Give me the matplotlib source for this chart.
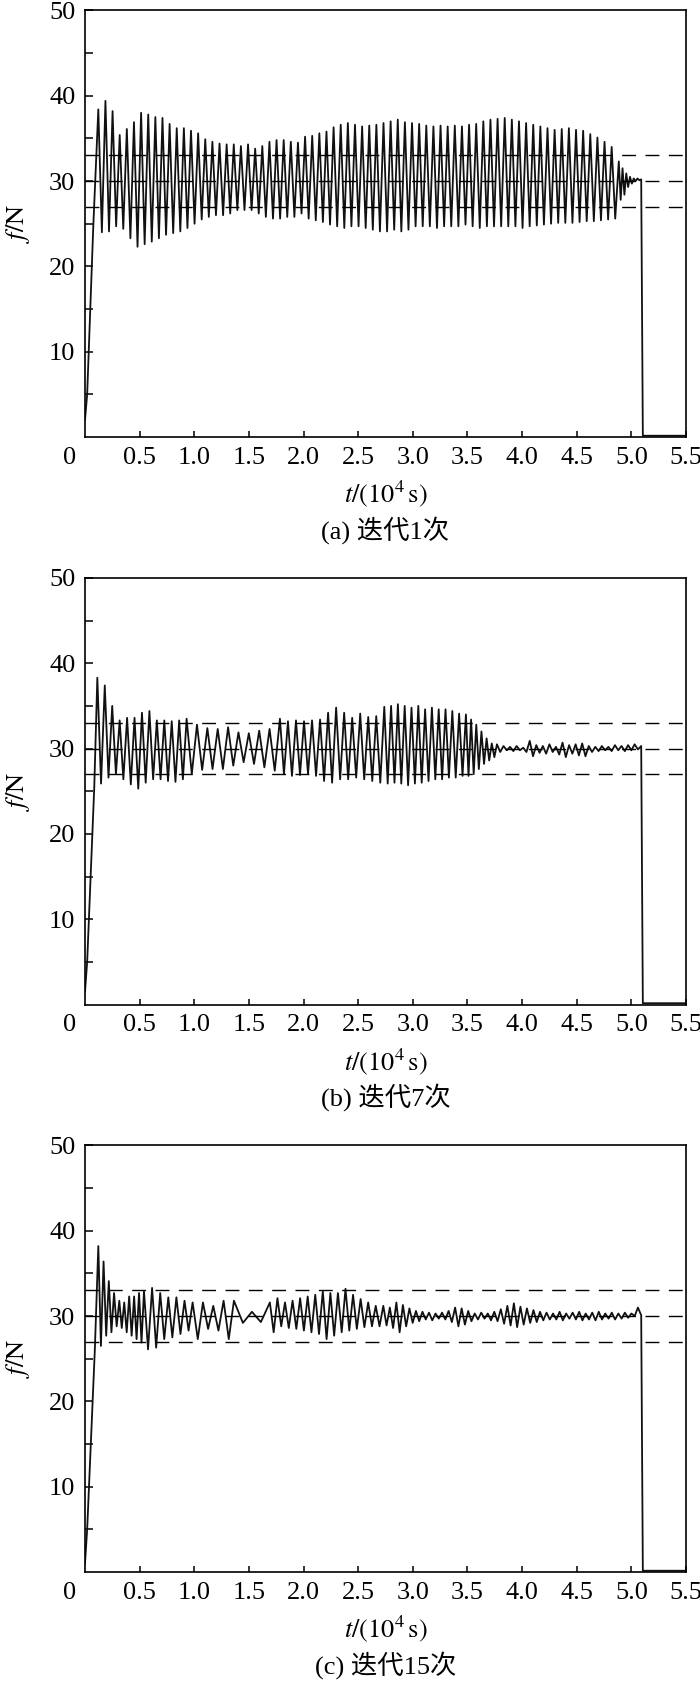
import numpy as np
import matplotlib
matplotlib.use("Agg")
import matplotlib.pyplot as plt

plt.rcParams['font.family'] = ['Liberation Serif', 'Noto Sans CJK SC', 'DejaVu Sans']
plt.rcParams['mathtext.fontset'] = 'stix'

# reference band (N)
ref_lines = [27, 30, 33]

# panel (a): 迭代1次
a_rise_t = [0.0, 0.02, 0.076]
a_rise_f = [2.0, 5.0, 24.7]
a_starts = [0.122, 4.885]
a_counts = [73]
a_hi = [38.4, 39.4, 38.2, 35.4, 36.1, 36.9, 38.0, 37.8, 37.5, 37.4,
        36.7, 36.2, 36.2, 35.9, 35.6, 34.9, 34.6, 34.4, 34.3, 34.3,
        34.1, 34.3, 33.8, 34.1, 34.6, 34.8, 34.8, 34.6, 34.5, 35.2,
        35.3, 35.6, 35.8, 36.3, 36.6, 36.8, 36.6, 36.4, 36.5, 36.6,
        36.8, 37.0, 37.2, 36.9, 36.8, 36.7, 36.5, 36.4, 36.5, 36.4,
        36.5, 36.4, 36.6, 36.7, 37.0, 37.2, 37.3, 37.4, 37.2, 37.0,
        36.8, 36.6, 36.4, 36.2, 36.0, 36.1, 36.2, 36.0, 35.9, 35.5,
        35.1, 34.6, 34.0]
a_lo = [24.0, 24.1, 24.7, 24.4, 23.3, 22.3, 22.6, 22.9, 23.3, 23.7,
        23.9, 24.1, 24.5, 25.0, 25.5, 25.8, 26.0, 26.0, 26.2, 26.6,
        26.6, 26.6, 26.2, 25.8, 25.6, 25.6, 25.8, 25.8, 26.2, 25.6,
        25.4, 25.2, 24.9, 24.7, 24.5, 24.7, 24.7, 24.5, 24.3, 24.1,
        24.1, 24.3, 24.1, 24.3, 24.7, 24.7, 24.7, 24.5, 24.7, 24.7,
        24.7, 24.9, 24.7, 24.5, 24.7, 24.7, 24.7, 24.7, 24.7, 24.5,
        24.7, 24.8, 24.9, 25.0, 25.1, 25.1, 25.1, 25.2, 25.3, 25.3,
        25.4, 25.5, 25.6]
a_tail = [32.3, 27.8, 31.5, 28.4, 30.9, 29.3, 30.5, 29.7, 30.3, 30.0,
          30.3, 30.1, 30.2]

# panel (b): 迭代7次
b_rise_t = [0.0, 0.02, 0.085]
b_rise_f = [1.5, 5.0, 25.5]
b_starts = [0.113, 0.93, 1.784, 2.739, 3.486, 3.77]
b_counts = [12, 9, 13, 12, 6]
b_hi = [38.3, 37.4, 35.0, 33.3, 33.6, 33.6, 34.2, 34.4, 33.3, 33.3, 33.2, 33.3,
        33.5, 32.8, 32.4, 32.3, 32.5, 31.9, 31.8, 32.1, 32.3,
        33.5, 33.2, 33.3, 33.2, 33.3, 33.4, 34.2, 34.8, 34.2, 33.6, 34.1, 33.7, 33.8,
        34.9, 35.0, 35.2, 35.0, 34.8, 35.0, 34.6, 34.8, 34.6, 34.6, 34.4, 34.1,
        34.0, 33.4, 32.8, 32.0, 31.2, 30.6]
b_lo = [25.9, 26.6, 27.0, 26.4, 25.8, 25.3, 26.0, 26.4, 26.4, 26.2, 26.1, 26.4,
        27.0, 27.5, 27.6, 27.6, 28.0, 28.4, 28.2, 27.8, 27.4,
        27.0, 26.8, 26.9, 27.0, 26.8, 26.2, 26.0, 26.4, 26.4, 26.6, 26.4, 26.2, 26.0,
        25.9, 26.0, 25.9, 25.7, 25.9, 26.0, 26.2, 26.4, 26.4, 26.6, 26.6, 26.8,
        26.8, 27.0, 27.6, 28.2, 28.6, 29.0]
b_tail = [30.5, 29.6, 30.3, 29.8, 30.2, 29.7, 30.3, 29.8, 30.1, 29.6,
          30.9, 29.1, 30.4, 29.5, 30.3, 29.4, 30.5, 29.6, 30.2, 29.3,
          30.7, 29.0, 30.4, 29.4, 30.5, 29.2, 30.6, 29.1, 30.3, 29.6,
          30.2, 29.7, 30.3, 29.8, 30.2, 29.7, 30.4, 29.8, 30.3, 29.7,
          30.4, 29.8, 30.5, 29.9, 30.3]

# panel (c): 迭代15次
c_rise_t = [0.0, 0.02, 0.09]
c_rise_f = [1.0, 5.0, 26.0]
c_starts = [0.122, 0.314, 0.54, 0.985, 1.363, 1.692, 2.73]
c_counts = [4, 5, 6, 4, 2, 15]
c_hi = [38.2, 36.4, 34.1, 32.7,
        31.8, 31.6, 32.3, 32.3, 32.7,
        32.9, 33.3, 32.7, 32.2, 32.2, 31.8,
        31.6, 31.6, 31.2, 31.8,
        31.8, 30.5,
        31.6, 32.1, 31.6, 31.8, 32.1, 32.3, 32.5, 32.9, 32.7, 32.7, 33.2, 32.5, 32.0, 31.6, 31.2]
c_lo = [26.5, 27.7, 28.1, 28.8,
        28.6, 28.1, 27.7, 27.3, 26.9,
        26.1, 26.3, 27.3, 27.5, 27.9, 28.3,
        27.3, 28.5, 28.3, 27.3,
        29.2, 29.3,
        28.1, 28.8, 28.6, 28.5, 28.3, 28.1, 27.9, 27.3, 27.7, 28.1, 28.3, 28.5, 28.7, 28.8, 28.8]
c_tail = [31.2, 28.9, 31.0, 28.6, 31.6, 28.1, 31.3, 28.8, 30.9, 29.2,
          30.6, 29.4, 30.5, 29.6, 30.4, 29.5, 30.3, 29.7, 30.4, 29.6,
          30.6, 29.3, 31.0, 28.8, 30.9, 29.0, 30.6, 29.4, 30.3, 29.6,
          30.4, 29.7, 30.3, 29.5, 30.5, 29.4, 30.8, 29.1, 31.2, 28.9,
          31.5, 28.7, 31.1, 29.0, 30.9, 29.2, 30.7, 29.3, 30.5, 29.5,
          30.4, 29.6, 30.3, 29.6, 30.5, 29.5, 30.3, 29.7, 30.4, 29.6,
          30.5, 29.5, 30.3, 29.6, 30.4, 29.5, 30.5, 29.6, 30.3, 29.7,
          30.4, 29.6, 30.3, 29.7, 30.4, 29.8, 30.3, 30.0, 31.0, 30.1]

tail_end = 5.09      # end of the force record
drop_t = 5.105       # force released
off_f = 0.15         # residual after release

captions = ['(a) 迭代1次', '(b) 迭代7次', '(c) 迭代15次']


def build(rise_t, rise_f, starts, counts, hi, lo, tail):
    t = list(rise_t)
    f = list(rise_f)
    i = 0
    for s, e, n in zip(starts[:-1], starts[1:], counts):
        p = (e - s) / n
        for k in range(n):
            t += [s + k * p, s + (k + 0.5) * p]
            f += [hi[i], lo[i]]
            i += 1
    t += list(np.linspace(starts[-1], tail_end, len(tail)))
    f += tail
    t += [drop_t, 5.5]
    f += [off_f, off_f]
    return np.array(t), np.array(f)


def main():
    series = [
        build(a_rise_t, a_rise_f, a_starts, a_counts, a_hi, a_lo, a_tail),
        build(b_rise_t, b_rise_f, b_starts, b_counts, b_hi, b_lo, b_tail),
        build(c_rise_t, c_rise_f, c_starts, c_counts, c_hi, c_lo, c_tail),
    ]
    bottoms = [0.7405, 0.4035, 0.0665]

    fig = plt.figure(figsize=(7, 16.84), dpi=100)
    for (t, f), b, cap in zip(series, bottoms, captions):
        ax = fig.add_axes([0.1214, b, 0.8586, 0.2533])
        ax.plot(t, f, color='#111111', lw=1.3, zorder=2)
        for y in ref_lines:
            ax.axhline(y, color='black', lw=1.0, dashes=(10, 6.8), zorder=3)
        ax.set_xlim(0, 5.5)
        ax.set_ylim(0, 50)
        ax.set_xticks(np.arange(0.5, 5.51, 0.5))
        ax.set_xticklabels(['%.1f' % v for v in np.arange(0.5, 5.51, 0.5)])
        ax.set_yticks([10, 20, 30, 40, 50])
        ax.set_yticks([5, 15, 25, 35, 45], minor=True)
        ax.tick_params(axis='both', which='both', direction='in', labelsize=19,
                       pad=7, width=1.1, top=False, right=False)
        ax.tick_params(axis='y', which='both', length=6)
        ax.tick_params(axis='x', which='both', length=4)
        for sp in ax.spines.values():
            sp.set_linewidth(1.2)
        ax.annotate('0', xy=(0, 0), xycoords='axes fraction', xytext=(-15, -9.7),
                    textcoords='offset pixels', ha='center', va='top', fontsize=19)
        ax.set_xlabel(r'$t/(10^{4}\,\mathrm{s})$', fontsize=19)
        ax.xaxis.set_label_coords(0.5, -0.098)
        ax.set_ylabel(r'$f/\mathrm{N}$', fontsize=19)
        ax.yaxis.set_label_coords(-0.088, 0.5)
        ax.text(0.5, -0.218, cap, transform=ax.transAxes, ha='center', va='center',
                fontsize=19)

    fig.savefig('out.png', dpi=100)


if __name__ == "__main__":
    main()
